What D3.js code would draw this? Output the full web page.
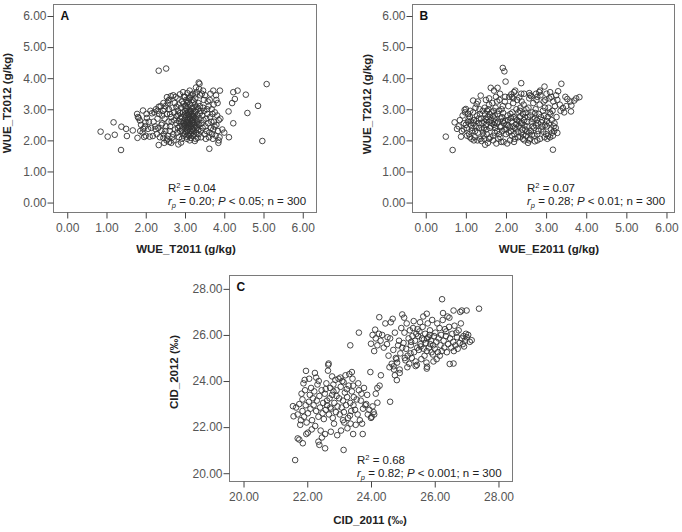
<!DOCTYPE html>
<html><head><meta charset="utf-8">
<script src="https://cdn.jsdelivr.net/npm/d3@7"></script>
<style>
html,body{margin:0;padding:0;background:#fff;}
svg{display:block;font-family:"Liberation Sans",Arial,sans-serif;}
</style></head>
<body><svg id="chart" width="682" height="532"></svg>
<script>
// ---------- DATA ----------
const ticksA = [0,1,2,3,4,5,6];
const ticksC = [20,22,24,26,28];

// Panel A: WUE_T2011 vs WUE_T2012
const pointsA = [
[0.85,2.28],[1.03,2.12],[1.18,2.58],[1.21,2.18],[1.37,1.69],[1.38,2.44],[1.50,2.37],[1.52,2.14],[1.67,2.32],[1.78,2.85],[1.79,2.08],[1.82,2.72],[1.85,2.64],[1.93,2.96],[1.94,2.37],[1.96,2.11],[1.99,2.58],[2.03,2.72],[2.06,2.37],[2.10,2.12],[2.16,2.87],[2.18,2.14],[2.25,2.36],[2.30,2.95],[2.33,3.08],[2.33,4.24],[2.52,4.31],[2.33,1.85],[2.45,2.08],[2.40,2.50],[2.42,2.80],[2.48,3.00],[2.54,3.39],[2.56,3.20],[2.50,2.30],[2.55,2.05],[2.60,1.95],[2.65,1.92],[2.83,1.87],[2.90,1.93],[3.37,3.82],[3.35,3.86],[3.62,1.73],[3.72,3.60],[3.89,3.60],[3.85,1.92],[3.86,2.00],[4.12,2.10],[4.11,2.93],[4.23,2.55],[4.20,3.20],[4.27,3.33],[4.23,3.55],[4.34,3.60],[4.55,3.47],[4.59,2.88],[4.86,3.11],[4.97,1.98],[5.08,3.81],[4.00,2.25],[3.95,2.35],[3.90,2.70],[3.80,3.30],[3.75,2.45],[3.70,2.85],[3.65,3.50],[3.60,3.10],
[2.62,2.45],[2.65,2.75],[2.68,3.05],[2.60,3.30],[2.70,2.20],[2.66,2.60],[2.72,2.90],[2.64,3.42],[2.70,3.45],[2.75,2.35],[2.62,2.85],[2.68,2.10],[2.74,3.20],[2.78,2.55],[2.76,3.40],[2.71,2.00],[2.79,2.78],[2.73,2.65],
[2.80,2.25],[2.82,2.95],[2.84,3.15],[2.86,2.45],[2.88,2.70],[2.81,3.35],[2.85,2.10],[2.87,3.48],[2.89,2.58],[2.83,2.82],[2.90,3.05],[2.92,2.35],[2.94,2.62],[2.95,2.90],[2.93,3.25],[2.96,2.15],[2.98,2.48],[2.97,3.40],[2.91,2.75],[2.99,3.10],[2.92,2.05],[2.95,3.55],[2.88,2.30],[2.84,2.62],
[3.00,2.20],[3.01,2.40],[3.02,2.60],[3.03,2.80],[3.04,3.00],[3.05,3.20],[3.00,3.40],[3.06,2.30],[3.07,2.50],[3.08,2.70],[3.09,2.90],[3.02,3.10],[3.03,3.30],[3.05,2.05],[3.04,2.12],[3.06,2.66],[3.08,2.38],[3.10,2.55],[3.11,2.75],[3.12,2.95],[3.13,3.15],[3.14,2.20],[3.15,2.45],[3.16,2.62],[3.17,2.85],[3.18,3.05],[3.10,3.35],[3.12,2.00],[3.13,2.30],[3.15,2.08],[3.17,2.52],[3.19,2.72],[3.11,2.42],[3.09,3.25],[3.14,2.90],[3.16,3.45],[3.18,2.25],[3.07,2.18],[3.01,2.95],[3.00,2.70],[3.03,2.48],[3.06,3.52],[3.12,3.60],[3.19,3.30],[3.08,2.82],[3.05,2.58],
[3.20,2.15],[3.21,2.35],[3.22,2.55],[3.23,2.75],[3.24,2.95],[3.25,3.15],[3.26,3.35],[3.27,2.05],[3.28,2.25],[3.29,2.45],[3.20,2.65],[3.21,2.85],[3.22,3.05],[3.23,3.25],[3.30,2.40],[3.31,2.60],[3.32,2.80],[3.33,3.00],[3.34,3.20],[3.35,2.20],[3.36,2.50],[3.37,2.70],[3.38,3.10],[3.39,3.45],[3.30,3.55],[3.25,1.98],[3.32,2.08],[3.27,2.92],[3.24,2.42],[3.29,2.68],[3.34,2.33],[3.26,3.48],[3.36,3.65],[3.28,3.70],
[3.40,2.30],[3.42,2.55],[3.44,2.80],[3.46,3.05],[3.48,3.30],[3.41,2.10],[3.43,3.50],[3.45,2.40],[3.47,2.65],[3.49,2.95],[3.50,2.20],[3.52,2.45],[3.54,2.70],[3.56,3.00],[3.58,3.25],[3.51,3.45],[3.53,2.05],[3.55,2.30],[3.57,2.85],[3.59,2.55],[3.62,2.25],[3.64,2.75],[3.66,2.40],[3.68,3.00],[3.63,3.30],[3.61,2.10],[3.67,2.60],[3.69,2.20],[3.46,3.60],[3.40,2.95],
[3.72,2.35],[3.74,2.60],[3.76,2.90],[3.78,2.15],[3.80,2.50],[3.82,2.80],[3.84,2.30],[3.86,2.65],[3.73,3.15],[3.79,3.45],[3.88,2.10],[3.71,2.05],[3.83,3.20],
[2.20,2.60],[2.22,2.90],[2.24,2.45],[2.26,3.00],[2.28,2.20],[2.30,2.70],[2.32,2.40],[2.34,2.85],[2.36,2.10],[2.38,3.10],[2.40,2.30],[2.42,2.55],[2.44,2.95],[2.46,2.20],[2.48,2.70],[2.50,3.10],[2.52,2.45],[2.54,2.85],[2.56,2.15],[2.58,2.60],[2.59,3.00],[2.53,2.00],[2.47,1.92],[2.57,3.28],[2.61,2.30],[2.45,3.20],
[1.80,2.75],[1.88,2.50],[1.92,2.25],[1.98,2.45],[2.02,2.85],[2.08,2.60],[2.12,2.95],[2.14,2.40],[2.00,2.15],[1.86,2.30],
[2.95,2.25],[2.97,2.55],[3.02,2.28],[3.04,2.88],[3.07,3.08],[3.09,2.62],[3.11,2.15],[3.13,2.68],[3.15,2.95],[3.17,2.35],[3.19,2.58],[3.21,2.78],[3.23,2.18],[3.25,2.50],[3.27,2.72],[3.29,3.08],[2.99,2.82],[3.00,2.52],[2.93,2.45],[2.87,2.88],[3.10,2.85],[3.14,2.52],[3.18,2.65],[3.06,2.42],[3.22,2.30],[3.32,2.52],[3.38,2.88],[2.96,3.18],[3.12,3.38],[3.20,3.50],[2.78,3.08],[2.82,2.40]
];

// Panel B: WUE_E2011 vs WUE_T2012
const pointsB = [
[0.50,2.12],[0.67,1.69],[0.72,2.58],[0.78,2.37],[0.88,2.12],[0.82,2.45],[0.85,2.65],[0.90,2.30],[0.92,2.80],[0.95,2.55],[0.98,2.90],[1.00,3.01],[0.97,2.98],[1.18,3.28],[1.27,3.17],[1.37,3.44],[1.62,3.69],[1.79,3.69],[1.92,4.33],[1.96,4.22],[1.99,3.89],[2.38,3.84],[2.96,3.73],[3.38,3.82],[3.53,3.33],[3.60,3.25],[3.70,3.28],[3.83,3.39],[3.75,3.35],[3.42,3.04],[3.62,2.93],[3.63,3.12],[3.28,2.24],[3.17,1.70],[2.72,1.97],[1.48,1.86],[1.20,2.00],[1.10,2.10],[3.30,3.58],[3.25,3.45],[3.10,3.55],[2.85,3.60],[2.75,3.50],[2.60,3.45],[2.45,3.50],[2.20,3.55],[2.15,3.40],[1.70,3.60],[1.50,3.30],[1.30,3.25],
[1.02,2.40],[1.05,2.60],[1.08,2.20],[1.10,2.75],[1.12,2.50],[1.15,2.30],[1.18,2.90],[1.20,2.65],[1.22,2.10],[1.25,2.45],[1.28,2.80],[1.30,2.25],[1.32,2.55],[1.34,3.00],[1.36,2.05],[1.38,2.70],[1.40,2.35],[1.42,2.95],[1.44,2.15],[1.46,2.60],[1.48,2.85],[1.06,2.85],[1.14,2.05],[1.24,3.05],[1.39,1.98],[1.45,2.40],
[1.50,2.50],[1.52,2.20],[1.54,2.75],[1.56,3.00],[1.58,2.05],[1.60,2.40],[1.62,2.65],[1.64,2.90],[1.66,3.20],[1.68,2.15],[1.70,2.50],[1.72,2.80],[1.74,3.05],[1.76,1.90],[1.78,2.30],[1.80,2.60],[1.82,2.95],[1.84,3.30],[1.86,2.10],[1.88,2.45],[1.90,2.75],[1.92,3.10],[1.94,1.95],[1.96,2.35],[1.98,2.62],[1.55,1.92],[1.65,2.55],[1.75,3.40],[1.85,3.50],[1.58,3.35],[1.72,2.25],[1.53,2.95],[1.67,2.78],[1.83,2.20],[1.93,2.88],
[2.00,2.20],[2.02,2.50],[2.04,2.80],[2.06,3.10],[2.08,3.40],[2.10,2.00],[2.12,2.30],[2.14,2.60],[2.16,2.90],[2.18,3.20],[2.20,1.95],[2.22,2.40],[2.24,2.70],[2.26,3.00],[2.28,3.30],[2.30,2.10],[2.32,2.45],[2.34,2.75],[2.36,3.05],[2.38,2.25],[2.40,2.55],[2.42,2.85],[2.44,3.15],[2.46,2.00],[2.48,2.35],[2.05,2.65],[2.15,2.15],[2.25,2.52],[2.35,2.95],[2.45,2.65],[2.03,1.90],[2.13,3.48],[2.23,3.60],[2.33,3.38],[2.43,2.18],[2.09,2.42],[2.19,2.75],[2.29,2.28],[2.39,3.25],[2.49,2.88],
[2.50,2.15],[2.52,2.45],[2.54,2.75],[2.56,3.05],[2.58,3.35],[2.60,2.05],[2.62,2.30],[2.64,2.60],[2.66,2.90],[2.68,3.20],[2.70,2.40],[2.72,2.70],[2.74,3.00],[2.76,3.30],[2.78,2.20],[2.80,2.55],[2.82,2.85],[2.84,3.15],[2.86,3.45],[2.88,2.35],[2.90,2.65],[2.92,2.95],[2.94,3.25],[2.96,2.10],[2.98,2.50],[2.55,1.92],[2.65,2.18],[2.75,2.48],[2.85,2.05],[2.95,2.80],[2.53,2.60],[2.63,3.42],[2.73,2.88],[2.83,3.55],[2.93,2.28],
[3.00,2.20],[3.02,2.45],[3.04,2.75],[3.06,3.05],[3.08,3.35],[3.10,2.10],[3.12,2.35],[3.14,2.65],[3.16,2.95],[3.18,3.25],[3.20,2.30],[3.05,2.15],[3.15,2.25],[3.22,3.10],[3.01,3.50],[3.11,2.85],[3.21,2.55],[3.26,2.75],[3.03,2.05],[3.13,3.40],
[0.95,2.35],[1.00,2.50],[1.03,2.15],[1.07,2.70],[1.11,2.95],[1.16,2.40],[1.19,2.55],[1.23,2.30],[1.26,2.62],[1.29,2.00],[1.33,2.40],[1.35,2.85],[1.41,2.55],[1.43,2.25],[1.47,3.05],[1.49,2.70],[1.51,2.35],[1.57,2.60],[1.59,2.85],[1.61,2.10],[1.63,2.45],[1.69,2.95],[1.71,2.70],[1.73,2.40],[1.77,2.55],[1.79,2.85],[1.81,2.05],[1.87,2.70],[1.89,3.00],[1.91,2.30],[1.95,2.55],[1.97,3.25],[2.01,2.35],[2.07,2.25],[2.11,2.85],[2.17,2.45],[2.21,2.20],[2.27,2.65],[2.31,2.90],[2.37,2.55],[2.41,2.35],[2.47,2.75],[2.51,3.00],[2.57,2.25],[2.61,2.80],[2.67,2.45],[2.71,2.15],[2.77,2.65],[2.81,2.30],[2.87,2.75],[2.91,2.45],[2.97,3.05],[3.07,2.55],[3.09,2.90],[3.17,2.15],[3.19,2.45],[2.58,2.00],[2.42,2.05],[2.22,2.05],[1.88,1.95],[1.68,2.00],[1.46,2.05],[2.36,2.12],[2.78,2.00],[3.24,2.40],[1.58,3.15],[1.78,3.25],[1.98,3.40],[2.18,3.35],[2.38,3.50],[2.58,3.52],[2.78,3.40],[2.98,3.30],[3.28,3.30],[3.34,3.15],[3.36,2.95],[3.45,2.90],[3.50,3.10],[3.48,3.40],[2.52,2.28],[2.32,2.62],[2.12,2.72],[1.92,2.62],[1.72,2.58],[1.52,2.65],[1.32,2.70],[1.12,2.62],[2.68,2.68],[2.88,2.58],[3.02,2.62],[2.46,2.48],[2.26,2.38],[2.06,2.48],[1.86,2.42]
];

// Panel C: CID_2011 vs CID_2012
const pointsC = [
[21.62,20.57],[21.55,22.91],[21.57,22.47],[21.70,21.51],[21.86,21.30],[21.75,21.46],[21.96,24.44],[22.02,21.76],[22.28,24.15],[22.38,21.23],[22.35,21.37],[22.56,21.08],[22.67,24.76],[23.14,21.01],[23.35,25.55],[23.40,24.39],[23.62,26.10],[23.74,21.70],[23.44,21.70],[23.98,24.39],[24.00,25.62],[24.13,26.23],[24.26,26.77],[24.31,24.25],[24.27,23.80],[24.20,23.06],[24.60,23.10],[24.71,24.64],[24.81,24.04],[24.98,26.89],[25.75,26.92],[26.23,27.55],[26.59,27.06],[26.85,27.06],[27.00,27.06],[27.39,27.14],[27.16,25.77],[26.59,24.76],[26.47,24.74],[25.75,24.54],[25.76,24.62],[25.40,24.65],[24.75,24.25],[24.90,24.50],[24.10,25.30],
[21.65,22.85],[21.70,22.55],[21.75,23.00],[21.80,22.30],[21.82,23.45],[21.85,22.70],[21.88,23.90],[21.90,22.45],[21.92,24.05],[21.95,22.95],[21.98,22.20],[21.78,22.10],[21.85,23.20],[21.93,23.60],[21.97,21.70],
[22.02,22.60],[22.05,23.10],[22.08,23.40],[22.10,22.80],[22.12,23.70],[22.15,22.30],[22.18,23.25],[22.20,22.95],[22.22,23.55],[22.25,22.05],[22.28,22.70],[22.30,23.15],[22.32,23.85],[22.35,22.45],[22.38,23.35],[22.40,22.85],[22.42,21.85],[22.45,23.60],[22.48,22.60],[22.50,23.05],[22.06,24.10],[22.14,21.90],[22.24,24.35],[22.36,24.00],[22.46,21.55],
[22.52,22.35],[22.55,23.45],[22.58,22.75],[22.60,23.90],[22.62,22.95],[22.65,24.45],[22.68,22.55],[22.70,23.25],[22.72,23.70],[22.75,22.80],[22.78,24.20],[22.80,22.40],[22.82,23.55],[22.85,23.05],[22.88,24.05],[22.90,22.65],[22.92,23.35],[22.95,22.90],[22.98,24.10],[22.56,21.70],[22.66,24.70],[22.74,21.80],[22.84,22.15],[22.94,21.65],[22.62,23.15],[22.72,22.85],[22.82,23.85],[22.92,23.60],[22.58,23.65],[22.78,23.40],
[23.00,23.25],[23.02,22.55],[23.05,23.75],[23.08,22.85],[23.10,24.00],[23.12,23.15],[23.15,22.65],[23.18,23.50],[23.20,24.25],[23.22,22.95],[23.25,23.30],[23.28,22.40],[23.30,23.80],[23.32,24.30],[23.35,23.05],[23.38,22.70],[23.40,23.55],[23.42,24.10],[23.45,22.95],[23.06,21.85],[23.16,22.20],[23.26,21.95],[23.36,22.15],[23.46,23.30],[23.04,24.15],[23.14,23.95],[23.24,23.65],[23.34,22.50],[23.44,23.80],[23.12,22.30],
[23.50,22.75],[23.55,23.20],[23.58,22.55],[23.62,23.60],[23.65,22.30],[23.70,23.45],[23.75,22.80],[23.78,23.70],[23.85,23.00],[23.90,22.55],[23.95,22.75],[24.00,22.40],[24.05,22.90],[24.10,22.55],[24.15,23.45],[24.20,23.70],[23.52,22.10],[23.60,23.90],[23.68,23.15],[23.82,22.95],[23.88,23.40],[24.02,22.45],[24.08,22.65],[23.72,22.15],
[24.50,25.60],[24.55,25.10],[24.60,25.85],[24.65,24.75],[24.70,25.35],[24.75,26.10],[24.80,24.95],[24.85,25.55],[24.88,25.75],[24.92,25.20],[24.95,26.30],[24.98,25.45],[24.52,25.90],[24.62,26.55],[24.72,24.50],[24.82,24.80],[24.90,24.35],[24.58,24.60],[24.68,26.70],[24.78,25.00],[24.30,25.75],[24.35,26.00],[24.40,25.45],[24.45,26.50],[24.25,26.05],[24.20,25.55],[24.15,25.85],[24.05,26.00],
[25.02,25.65],[25.05,26.10],[25.08,24.90],[25.10,25.40],[25.12,26.50],[25.15,25.10],[25.18,25.85],[25.20,24.75],[25.22,26.20],[25.25,25.55],[25.28,25.00],[25.30,25.95],[25.32,26.30],[25.35,25.25],[25.38,25.75],[25.40,24.85],[25.42,26.05],[25.45,25.45],[25.48,25.95],[25.04,26.75],[25.14,24.60],[25.24,25.20],[25.34,26.60],[25.44,24.70],[25.06,25.00],[25.26,25.70],[25.46,26.25],
[25.50,25.35],[25.52,26.15],[25.55,25.60],[25.58,24.95],[25.60,25.85],[25.62,26.35],[25.65,25.40],[25.68,25.10],[25.70,26.05],[25.72,25.65],[25.75,25.30],[25.78,26.50],[25.80,25.90],[25.82,25.45],[25.85,26.20],[25.88,25.75],[25.90,25.25],[25.92,26.65],[25.95,25.55],[25.98,25.95],[25.54,26.55],[25.64,26.80],[25.74,24.80],[25.84,26.00],[25.94,25.15],[25.66,25.80],[25.86,25.60],[25.76,25.85],[25.56,25.50],[25.96,24.85],
[26.00,25.40],[26.02,26.10],[26.05,25.70],[26.08,26.50],[26.10,25.25],[26.12,25.85],[26.15,26.30],[26.18,25.55],[26.20,26.00],[26.22,25.30],[26.25,26.65],[26.28,25.75],[26.30,25.45],[26.32,26.25],[26.35,25.95],[26.38,25.25],[26.40,26.80],[26.42,25.60],[26.45,26.35],[26.48,25.85],[26.06,24.95],[26.16,25.10],[26.26,26.95],[26.36,26.15],[26.46,26.75],
[26.52,25.45],[26.55,26.05],[26.58,25.70],[26.62,26.40],[26.65,25.55],[26.70,25.90],[26.75,26.20],[26.78,25.65],[26.82,26.50],[26.85,25.85],[26.90,25.95],[26.95,25.75],[27.00,25.90],[27.05,26.00],[27.10,25.70],[26.60,25.30],[26.68,26.10],[26.72,25.40],[26.88,25.60],[26.98,26.05],[26.80,27.00],[26.92,25.50]
];

const panels = [
  {id:"A", pts:pointsA, ticks:ticksA, xTitle:"WUE_T2011 (g/kg)", yTitle:"WUE_T2012 (g/kg)", r2:"0.04", rp:"0.20", p:"0.05"},
  {id:"B", pts:pointsB, ticks:ticksA, xTitle:"WUE_E2011 (g/kg)", yTitle:"WUE_T2012 (g/kg)", r2:"0.07", rp:"0.28", p:"0.01"},
  {id:"C", pts:pointsC, ticks:ticksC, xTitle:"CID_2011 (\u2030)", yTitle:"CID_2012 (\u2030)", r2:"0.68", rp:"0.82", p:"0.001"}
];

// ---------- LAYOUT ----------
const layout = {
  A:{L:53.5,R:316.5,T:4.5,B:212.5, xd:[-0.35,6.35], yd:[-0.32,6.37], ytx:8, ytyc:103, xtyc:250, annX:168, annY:192, xtc:186},
  B:{L:412.5,R:674.5,T:4.5,B:212.5, xd:[-0.33,6.2], yd:[-0.32,6.37], ytx:368, ytyc:104, xtyc:250, annX:527, annY:192, xtc:549},
  C:{L:229.5,R:512.5,T:275.5,B:481.5, xd:[19.56,28.44], yd:[19.64,28.58], ytx:175, ytyc:372, xtyc:521, annX:357, annY:464, xtc:370}
};

const svg = d3.select("#chart");

panels.forEach(pn => {
  const lo = layout[pn.id];
  const x = d3.scaleLinear().domain(lo.xd).range([lo.L, lo.R]);
  const y = d3.scaleLinear().domain(lo.yd).range([lo.B, lo.T]);
  const g = svg.append("g");

  // frame
  g.append("rect").attr("x", lo.L).attr("y", lo.T)
    .attr("width", lo.R - lo.L).attr("height", lo.B - lo.T)
    .attr("fill", "none").attr("stroke", "#7a7a7a").attr("stroke-width", 1);

  // axes
  const xAxis = d3.axisBottom(x).tickValues(pn.ticks).tickFormat(d3.format(".2f")).tickSize(6).tickPadding(5);
  const yAxis = d3.axisLeft(y).tickValues(pn.ticks).tickFormat(d3.format(".2f")).tickSize(6).tickPadding(1);
  const gx = g.append("g").attr("transform", `translate(0,${lo.B})`).call(xAxis);
  const gy = g.append("g").attr("transform", `translate(${lo.L},0)`).call(yAxis);
  [gx, gy].forEach(a => {
    a.select(".domain").remove();
    a.selectAll(".tick line").attr("stroke", "#444");
    a.selectAll(".tick text").attr("fill", "#555").style("font-size", "12px")
      .style("font-family", '"Liberation Sans", Arial, sans-serif');
  });

  // points
  g.append("g").selectAll("circle").data(pn.pts).join("circle")
    .attr("cx", d => x(d[0])).attr("cy", d => y(d[1])).attr("r", 2.8)
    .attr("fill", "none").attr("stroke", "#333").attr("stroke-width", 0.9);

  // panel letter
  g.append("text").attr("x", lo.L + 7).attr("y", lo.T + 15)
    .attr("font-weight", "bold").attr("font-size", 12).attr("fill", "#111").text(pn.id);

  // axis titles
  g.append("text").attr("x", lo.xtc).attr("y", lo.xtyc).attr("text-anchor", "middle")
    .attr("dominant-baseline", "middle").attr("font-weight", "bold").attr("font-size", 11.5)
    .attr("fill", "#222").text(pn.xTitle);
  g.append("text").attr("transform", `translate(${lo.ytx},${lo.ytyc}) rotate(-90)`)
    .attr("text-anchor", "middle").attr("dominant-baseline", "middle")
    .attr("font-weight", "bold").attr("font-size", 11.5).attr("fill", "#222").text(pn.yTitle);

  // annotation
  const t1 = g.append("text").attr("x", lo.annX).attr("y", lo.annY).attr("font-size", 11.5).attr("fill", "#222");
  t1.append("tspan").text("R");
  t1.append("tspan").attr("dy", -4).attr("font-size", 7.5).text("2");
  t1.append("tspan").attr("dy", 4).text(" = " + pn.r2);
  const t2 = g.append("text").attr("x", lo.annX).attr("y", lo.annY + 13).attr("font-size", 11.5).attr("fill", "#222");
  t2.append("tspan").attr("font-style", "italic").text("r");
  t2.append("tspan").attr("dy", 3).attr("font-size", 7.5).attr("font-style", "italic").text("p");
  t2.append("tspan").attr("dy", -3).text(" = " + pn.rp + "; ");
  t2.append("tspan").attr("font-style", "italic").text("P");
  t2.append("tspan").text(" < " + pn.p + "; n = 300");
});
</script>
</body></html>
